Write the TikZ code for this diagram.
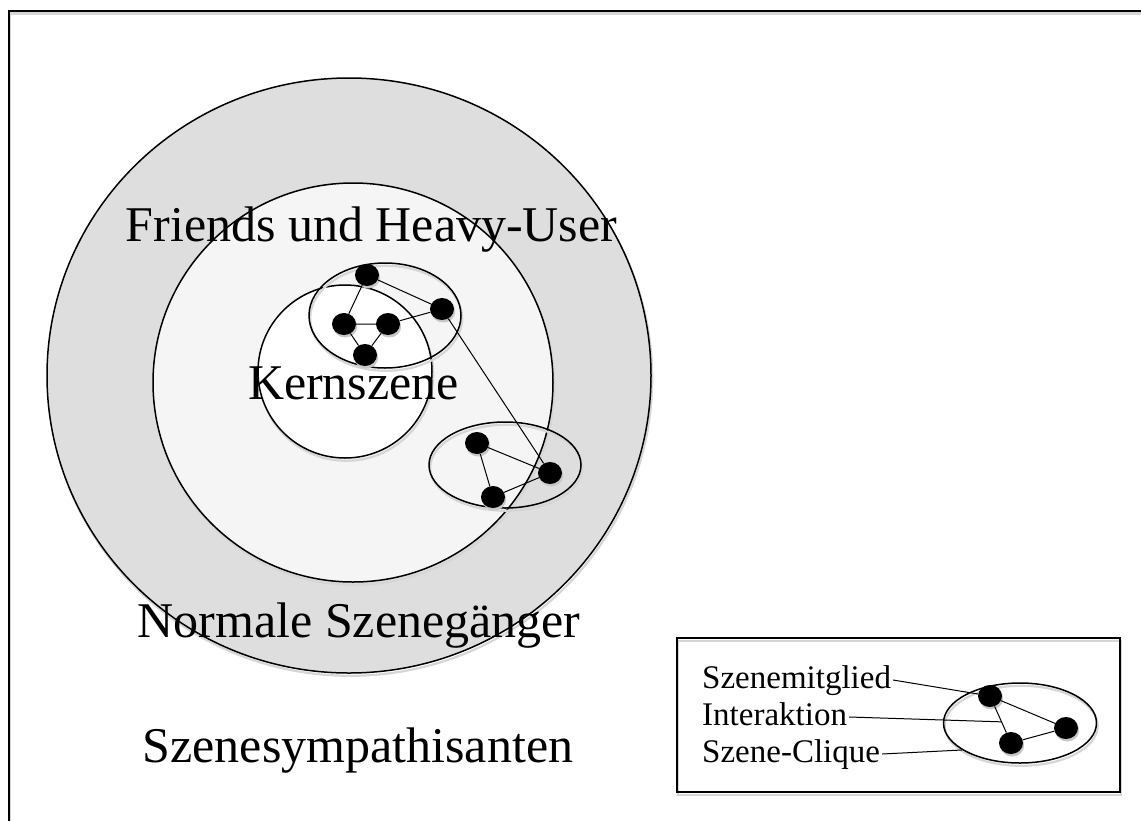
\documentclass[tikz,border=0pt]{standalone}
\usepackage{fontspec}
\setmainfont{Liberation Serif}
\usetikzlibrary{shapes.geometric,calc}
\begin{document}
\begin{tikzpicture}[x=1pt,y=-1pt,
  shd/.style={preaction={draw=black!16, fill=none, line width=2.2pt, transform canvas={xshift=1.2pt,yshift=-2.8pt}}},
  ring/.style={ellipse, draw=black, line width=1.5pt, inner sep=0pt, shd},
  dot/.style={ellipse, fill=black, inner sep=0pt, minimum width=24pt, minimum height=22pt,
    preaction={fill=black!22, transform canvas={xshift=1.2pt,yshift=-2.5pt}}},
  link/.style={line width=1pt},
  big/.style={font=\fontsize{50}{60}\selectfont, inner sep=0pt},
  small/.style={font=\fontsize{33}{40}\selectfont, inner xsep=2pt, inner ysep=0pt, text height=23pt, text depth=7pt},
]
\useasboundingbox (0,0) rectangle (1141,820);
\clip (0,0) rectangle (1141,820);
% outer frame (cut off at right and bottom)
\node[draw, line width=1.5pt, shd, inner sep=0pt, minimum width=1200pt, minimum height=900pt, anchor=north west] (frame) at (8,10) {};
% nested circles
\node[ring, fill=black!13, minimum width=604pt, minimum height=595pt] (outer) at (349,375.5) {};
\node[ring, fill=black!4, minimum width=400pt, minimum height=399pt] (mid) at (353,382.5) {};
\node[ring, fill=white, minimum width=174pt, minimum height=173pt] (kern) at (345,371.5) {};
% labels
\node[big, anchor=base] (lf) at (371.5,241) {Friends und Heavy-User};
\node[big, anchor=base] (lk) at (353.5,399) {Kernszene};
\node[big, anchor=base] (ln) at (359,637) {Normale Szenegänger};
\node[big, anchor=base] (ls) at (358,762) {Szenesympathisanten};
% cliques
\node[ring, minimum width=152pt, minimum height=105pt] (c1) at (385,315.5) {};
\node[ring, minimum width=152pt, minimum height=86pt] (c2) at (505,465) {};
\node[dot] (n1) at (367,275) {};
\node[dot] (n2) at (442,309) {};
\node[dot] (n3) at (344,324) {};
\node[dot] (n4) at (388,324) {};
\node[dot] (n5) at (365,355) {};
\node[dot] (m1) at (477,443) {};
\node[dot] (m2) at (550,473) {};
\node[dot] (m3) at (493,497) {};
\draw[link] (n1)--(n2) (n1)--(n3) (n3)--(n4) (n4)--(n2) (n3)--(n5) (n4)--(n5)
            (n2)--(m2) (m1)--(m2) (m1)--(m3) (m3)--(m2);
% legend
\node[draw, line width=1.5pt, shd, inner sep=0pt, minimum width=443pt, minimum height=154pt] (leg) at (898.5,715) {};
\node[small, anchor=base west] (tm) at (700,688) {Szenemitglied};
\node[small, anchor=base west] (ti) at (700,725) {Interaktion};
\node[small, anchor=base west] (tc) at (700,762) {Szene-Clique};
\node[ring, minimum width=153pt, minimum height=80pt] (lc) at (1020,723) {};
\node[dot] (la) at (990,696) {};
\node[dot] (lb) at (1066,728) {};
\node[dot] (lx) at (1011,743) {};
\draw[link] (la)--(lb) (la)--(lx) (lx)--(lb);
\coordinate (im) at ($(la)!0.55!(lx)$);
\draw[link] (tm.east)--(la) (ti.east)--(im) (tc.east)--(lc.205);
\end{tikzpicture}
\end{document}
